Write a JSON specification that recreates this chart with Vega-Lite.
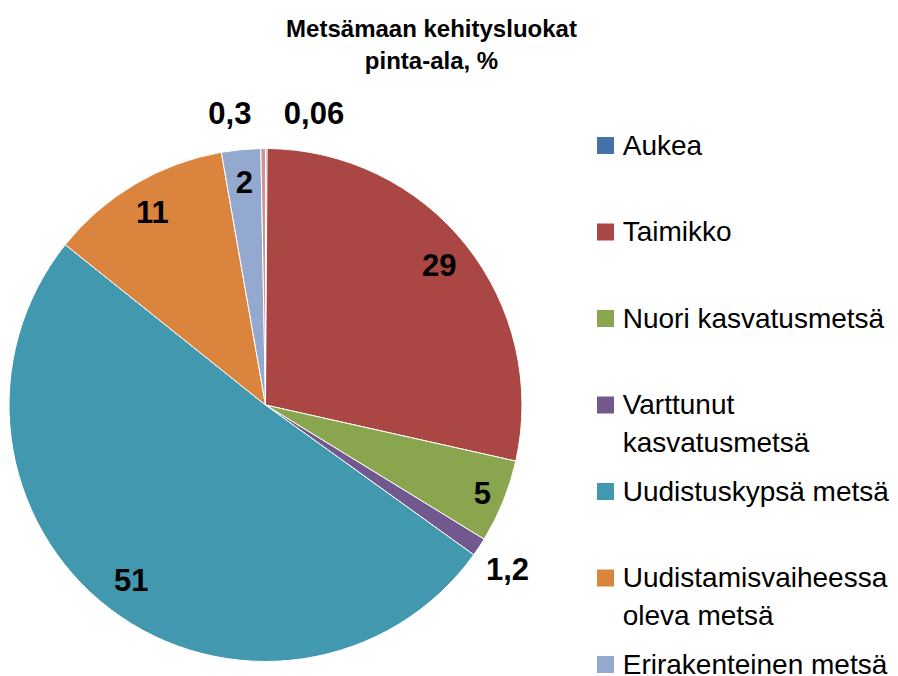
{
  "$schema": "https://vega.github.io/schema/vega-lite/v6.json",
  "width": 513,
  "height": 513,
  "autosize": {"type": "none"},
  "padding": {"left": 9, "top": 148.5, "right": 376, "bottom": 14.5},
  "background": "white",
  "title": {
    "text": ["Metsämaan kehitysluokat", "pinta-ala, %"],
    "font": "Liberation Sans",
    "fontSize": 24,
    "fontWeight": "bold",
    "lineHeight": 32,
    "color": "black",
    "anchor": "middle",
    "frame": "group",
    "dx": 166,
    "offset": 25
  },
  "data": {
    "values": [
      {"category": "Aukea", "value": 0.1, "label": "0,06", "order": 1},
      {"category": "Taimikko", "value": 28.4, "label": "29", "order": 2},
      {"category": "Nuori kasvatusmetsä", "value": 5.25, "label": "5", "order": 3},
      {"category": "Varttunut kasvatusmetsä", "value": 1.16, "label": "1,2", "order": 4},
      {"category": "Uudistuskypsä metsä", "value": 50.8, "label": "51", "order": 5},
      {"category": "Uudistamisvaiheessa oleva metsä", "value": 11.5, "label": "11", "order": 6},
      {"category": "Erirakenteinen metsä", "value": 2.46, "label": "2", "order": 7},
      {"category": "Ylispuustoinen taimikko", "value": 0.29, "label": "0,3", "order": 8}
    ]
  },
  "encoding": {
    "theta": {"field": "value", "type": "quantitative", "stack": true},
    "order": {"field": "order", "type": "quantitative"}
  },
  "layer": [
    {
      "mark": {"type": "arc", "outerRadius": 256.5, "stroke": "white", "strokeWidth": 1},
      "encoding": {
        "color": {
          "field": "category",
          "type": "nominal",
          "scale": {
            "domain": ["Aukea", "Taimikko", "Nuori kasvatusmetsä", "Varttunut kasvatusmetsä", "Uudistuskypsä metsä", "Uudistamisvaiheessa oleva metsä", "Erirakenteinen metsä", "Ylispuustoinen taimikko"],
            "range": ["#4572A7", "#AA4643", "#89A54E", "#71588F", "#4198AF", "#DB843D", "#93A9CF", "#D19392"]
          },
          "legend": {
            "values": ["Aukea", "Taimikko", "Nuori kasvatusmetsä", "Varttunut kasvatusmetsä", "Uudistuskypsä metsä", "Uudistamisvaiheessa oleva metsä", "Erirakenteinen metsä"],
            "title": null,
            "orient": "none",
            "legendX": 570.5,
            "legendY": -14,
            "padding": 0,
            "symbolType": "M-0.125,-0.875H0.725V-0.025H-0.125Z",
            "symbolSize": 1600,
            "symbolStrokeWidth": 0,
            "symbolOpacity": 1,
            "labelFont": "Liberation Sans",
            "labelFontSize": 28,
            "labelColor": "black",
            "labelBaseline": "alphabetic",
            "labelOffset": 3.2,
            "labelLimit": 400,
            "gridAlign": "all",
            "rowPadding": 20.5,
            "labelExpr": "datum.label == 'Varttunut kasvatusmetsä' ? ['Varttunut', 'kasvatusmetsä'] : datum.label == 'Uudistamisvaiheessa oleva metsä' ? ['Uudistamisvaiheessa', 'oleva metsä'] : datum.label"
          }
        }
      }
    },
    {
      "mark": {"type": "text", "radius": 222, "font": "Liberation Sans", "fontSize": 31, "fontWeight": "bold", "color": "black"},
      "encoding": {
        "text": {"condition": {"test": "datum.order != 1 && datum.order != 3 && datum.order != 4 && datum.order != 8", "field": "label"}, "value": ""}
      }
    },
    {
      "mark": {"type": "text", "radius": 234, "dy": 2, "font": "Liberation Sans", "fontSize": 31, "fontWeight": "bold", "color": "black"},
      "encoding": {
        "text": {"condition": {"test": "datum.order == 3", "field": "label"}, "value": ""}
      }
    },
    {
      "mark": {"type": "text", "radius": 293, "dx": -2, "dy": 4, "font": "Liberation Sans", "fontSize": 31, "fontWeight": "bold", "color": "black"},
      "encoding": {
        "text": {"condition": {"test": "datum.order == 4", "field": "label"}, "value": ""}
      }
    },
    {
      "mark": {"type": "text", "radius": 290, "dx": -33, "font": "Liberation Sans", "fontSize": 31, "fontWeight": "bold", "color": "black"},
      "encoding": {
        "text": {"condition": {"test": "datum.order == 8", "field": "label"}, "value": ""}
      }
    },
    {
      "mark": {"type": "text", "radius": 290, "dx": 47.6, "font": "Liberation Sans", "fontSize": 31, "fontWeight": "bold", "color": "black"},
      "encoding": {
        "text": {"condition": {"test": "datum.order == 1", "field": "label"}, "value": ""}
      }
    }
  ],
  "config": {
    "view": {"stroke": null},
    "style": {"guide-label": {"lineHeight": 38}}
  }
}
